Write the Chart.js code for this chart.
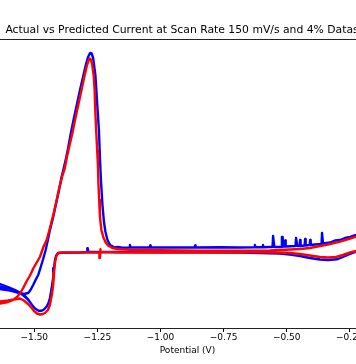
<!DOCTYPE html>
<html><head><meta charset="utf-8">
<script src="https://cdn.jsdelivr.net/npm/chart.js@4.4.1/dist/chart.umd.min.js"></script>
<style>
html,body{margin:0;padding:0;background:#fff;overflow:hidden;width:356px;height:364px;}
#wrap{position:absolute;left:-200px;top:0;width:775px;height:364px;}
</style></head><body>
<div id="wrap"><canvas id="c"></canvas></div>
<script>
const titleText = "Actual vs Predicted Current at Scan Rate 150 mV/s and 4% Dataset";
const xTitle = "Potential (V)";
const xTicks = [-1.50, -1.25, -1.00, -0.75, -0.50, -0.25];

// Actual (blue), main cycle: cathodic sweep from right vertex, then anodic return
const actualPotential = [
-0.198,-0.225,-0.249,-0.277,-0.301,-0.336,-0.368,-0.408,-0.447,-0.487,-0.527,-0.606,-0.685,-0.844,-1.002,-1.160,
-1.286,-1.288,-1.290,-1.319,-1.390,-1.406,-1.414,-1.418,-1.422,-1.425,-1.430,-1.434,-1.438,-1.444,-1.451,-1.462,
-1.471,-1.483,-1.497,-1.509,-1.524,-1.537,-1.550,-1.576,-1.604,-1.636,-1.695,
-1.700,-1.695,-1.636,-1.596,-1.565,-1.541,-1.524,-1.515,-1.504,-1.493,-1.484,-1.477,-1.466,-1.456,-1.448,-1.438,
-1.426,-1.414,-1.402,-1.392,-1.386,-1.374,-1.366,-1.355,-1.343,-1.331,-1.319,-1.307,-1.295,-1.287,-1.279,-1.273,
-1.267,-1.258,-1.250,-1.244,-1.240,-1.236,-1.230,-1.224,-1.218,-1.210,-1.200,-1.192,-1.184,-1.168,-1.152,
-1.123,-1.121,-1.119,-1.043,-1.041,-1.039,-0.962,-0.865,-0.863,-0.861,-0.764,-0.685,-0.628,-0.626,-0.624,
-0.596,-0.594,-0.592,-0.566,-0.556,-0.554,-0.551,-0.549,-0.521,-0.519,-0.516,-0.514,-0.508,-0.506,-0.504,
-0.465,-0.463,-0.460,-0.458,-0.449,-0.447,-0.445,-0.429,-0.427,-0.425,-0.409,-0.407,-0.405,-0.388,
-0.362,-0.360,-0.358,-0.356,-0.328,-0.309,-0.289,-0.269,-0.249,-0.225,-0.198
];
const actualCurrent = [
0.030,-0.017,-0.040,-0.070,-0.093,-0.100,-0.095,-0.080,-0.060,-0.045,-0.035,-0.030,-0.025,-0.023,-0.022,-0.020,
-0.020,0.017,-0.020,-0.025,-0.027,-0.030,-0.060,-0.100,-0.180,-0.270,-0.360,-0.420,-0.480,-0.530,-0.565,-0.595,
-0.608,-0.607,-0.585,-0.550,-0.497,-0.460,-0.435,-0.400,-0.370,-0.340,-0.320,
-0.340,-0.360,-0.390,-0.405,-0.425,-0.440,-0.430,-0.400,-0.347,-0.290,-0.247,-0.190,-0.100,-0.010,0.080,0.200,
0.320,0.460,0.600,0.730,0.790,0.920,1.020,1.170,1.320,1.460,1.600,1.730,1.860,1.930,1.970,1.965,
1.920,1.750,1.430,1.200,0.930,0.700,0.450,0.280,0.180,0.100,0.050,0.040,0.025,0.030,0.022,
0.025,0.050,0.025,0.025,0.045,0.025,0.025,0.025,0.045,0.025,0.028,0.025,0.028,0.050,0.028,
0.028,0.050,0.028,0.030,0.030,0.140,0.140,0.030,0.030,0.130,0.130,0.035,0.035,0.095,0.035,
0.040,0.120,0.120,0.040,0.040,0.100,0.040,0.045,0.110,0.045,0.050,0.100,0.050,0.055,
0.060,0.170,0.170,0.065,0.075,0.095,0.100,0.120,0.130,0.150,0.175
];
// Actual (blue), second cycle near the negative vertex
const actualCycle2Potential = [-1.524,-1.550,-1.576,-1.604,-1.636,-1.695];
const actualCycle2Current = [-0.497,-0.440,-0.415,-0.390,-0.365,-0.345];

// Predicted (red)
const predictedPotential = [
-0.198,-0.225,-0.249,-0.277,-0.305,-0.336,-0.368,-0.408,-0.447,-0.487,-0.527,-0.606,-0.685,-0.844,-1.002,-1.160,
-1.236,-1.238,-1.240,-1.242,-1.319,-1.390,-1.406,-1.414,-1.418,-1.422,-1.425,-1.430,-1.438,-1.446,-1.458,-1.470,
-1.477,-1.489,-1.501,-1.510,-1.525,-1.541,-1.557,-1.580,-1.604,-1.636,-1.695,
-1.695,-1.636,-1.604,-1.584,-1.569,-1.557,-1.544,-1.530,-1.517,-1.504,-1.493,-1.477,-1.464,-1.451,-1.438,-1.426,
-1.414,-1.402,-1.388,-1.380,-1.370,-1.361,-1.349,-1.337,-1.325,-1.313,-1.302,-1.292,-1.285,-1.281,-1.276,-1.271,
-1.265,-1.261,-1.259,-1.255,-1.251,-1.248,-1.246,-1.243,-1.240,-1.234,-1.227,-1.218,-1.208,-1.192,-1.172,-1.121,
-1.002,-0.844,-0.685,-0.566,-0.487,-0.447,-0.408,-0.368,-0.328,-0.289,-0.249,-0.225,-0.198
];
const predictedCurrent = [
0.010,-0.010,-0.025,-0.050,-0.070,-0.075,-0.070,-0.055,-0.040,-0.030,-0.025,-0.023,-0.025,-0.025,-0.025,-0.025,
-0.020,0.007,-0.080,-0.025,-0.025,-0.025,-0.030,-0.070,-0.130,-0.230,-0.347,-0.440,-0.547,-0.600,-0.630,-0.643,
-0.645,-0.635,-0.610,-0.580,-0.540,-0.505,-0.485,-0.495,-0.505,-0.515,-0.530,
-0.550,-0.535,-0.520,-0.500,-0.470,-0.435,-0.380,-0.310,-0.255,-0.185,-0.135,-0.065,0.030,0.100,0.220,0.340,
0.470,0.610,0.750,0.810,0.940,1.040,1.170,1.320,1.460,1.600,1.730,1.840,1.895,1.915,1.905,1.860,
1.750,1.600,1.430,1.200,1.000,0.850,0.670,0.500,0.330,0.200,0.130,0.080,0.045,0.022,0.010,0.002,
-0.003,-0.007,-0.008,-0.005,0.005,0.010,0.020,0.040,0.060,0.083,0.115,0.133,0.160
];

const pts = (xs, ys) => xs.map((x, i) => ({x: x, y: ys[i]}));

// layout of the (wider) canvas: the visible window is a crop of it
const CANVAS_W = 775, OFFSET = 200, PX_PER_V = 252.4, TICK_PX = 34.3;
const xMin = -1.50 - (OFFSET + TICK_PX) / PX_PER_V;
const xMax = xMin + CANVAS_W / PX_PER_V;
const yMin = -0.78, yMax = 2.107;

const FONT = "'DejaVu Sans', sans-serif";
const lineStyle = {showLine: true, pointRadius: 0, borderWidth: 2.4, tension: 0, borderJoinStyle: 'round', borderCapStyle: 'round', fill: false};

new Chart(document.getElementById('c'), {
  type: 'scatter',
  data: {
    datasets: [
      Object.assign({label: 'Predicted', data: pts(predictedPotential, predictedCurrent), borderColor: '#ff0000', backgroundColor: '#ff0000', order: 0}, lineStyle),
      Object.assign({label: 'Actual', data: pts(actualPotential, actualCurrent), borderColor: '#0000ff', backgroundColor: '#0000ff', order: 1}, lineStyle),
      Object.assign({label: 'Actual (cycle 2)', data: pts(actualCycle2Potential, actualCycle2Current), borderColor: '#0000ff', backgroundColor: '#0000ff', order: 2}, lineStyle)
    ]
  },
  options: {
    responsive: true,
    maintainAspectRatio: false,
    animation: false,
    devicePixelRatio: 1,
    layout: {padding: 0},
    plugins: {
      legend: {display: false},
      tooltip: {enabled: false},
      title: {display: true, text: titleText, color: '#000', font: {family: FONT, size: 10.8, weight: 'normal'}, padding: {top: 23.5, bottom: 2.84}}
    },
    scales: {
      x: {
        type: 'linear', position: 'bottom', min: xMin, max: xMax,
        afterBuildTicks: s => { s.ticks = xTicks.map(v => ({value: v})); },
        afterFit: s => { s.height = 36; s.paddingLeft = 0; s.paddingRight = 0; },
        ticks: {color: '#000', font: {family: FONT, size: 9}, padding: 0.3, autoSkip: false, maxRotation: 0,
          callback: v => v.toFixed(2).replace('-', '\u2212')},
        grid: {display: true, drawOnChartArea: false, drawTicks: true, tickLength: 4, color: '#000', lineWidth: 1},
        border: {display: true, color: '#222', width: 1},
        title: {display: true, text: xTitle, color: '#000', font: {family: FONT, size: 9}, padding: {top: 1, bottom: 7.8}}
      },
      x2: {
        type: 'linear', position: 'top', min: xMin, max: xMax,
        afterFit: s => { s.height = 0; },
        ticks: {display: false},
        grid: {display: false, drawTicks: false},
        border: {display: true, color: '#222', width: 1}
      },
      y: {type: 'linear', display: false, min: yMin, max: yMax}
    }
  }
});
</script>
</body></html>
